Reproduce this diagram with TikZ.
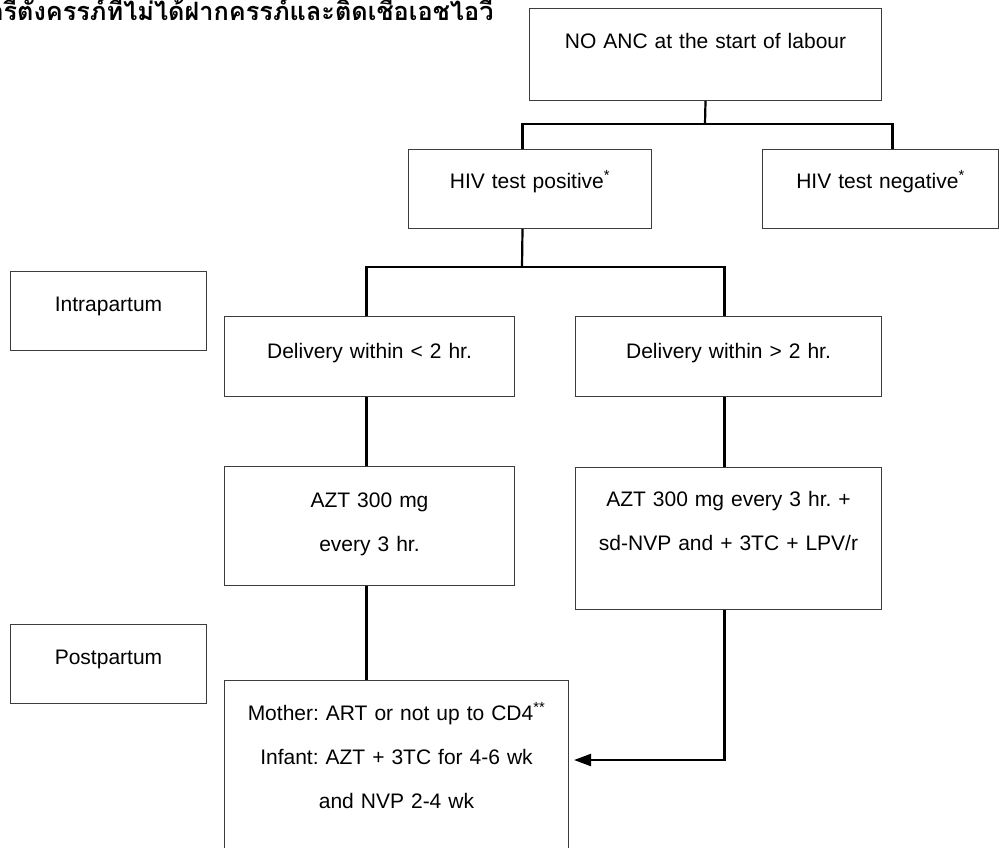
\documentclass[tikz,border=0pt]{standalone}
\usepackage{fontspec}
\setmainfont{Liberation Sans}
\newfontfamily\thaifont[Script=Thai]{Loma}
\usetikzlibrary{arrows.meta,positioning}
\definecolor{ink}{HTML}{000000}
\definecolor{frame}{HTML}{3C3C3C}
\tikzset{fbox/.style n args={3}{draw=frame,line width=1pt,anchor=north west,inner sep=0pt,
  align=center,text width=#1pt,minimum width=#1pt,text height=#2pt,text depth=#3pt,
  font=\fontsize{21}{44}\selectfont},
  wire/.style={line width=2.2pt,draw=ink},
  tip/.style={-{Triangle[length=17pt,width=12pt]}}}
\newcommand{\supstar}[1]{\textsuperscript{#1}}

\begin{document}
\frenchspacing
\begin{tikzpicture}[x=1pt,y=-1pt]
\useasboundingbox (0,0) rectangle (1000,847);
\node[anchor=base east,font=\thaifont\bfseries\fontsize{25.3}{30}\selectfont] (title) at (497,20)
  {สตรีตั้งครรภ์ที่ไม่ได้ฝากครรภ์และติดเชื้อเอชไอวี};
% flow boxes
\node[fbox={352}{39.5}{52.5}] (start) at (529,8) {NO ANC at the start of labour};
\node[fbox={243}{38.5}{40.5}] (pos) at (408,149) {HIV test positive\supstar{*}};
\node[fbox={236}{38.5}{40.5}] (neg) at (762,149) {HIV test negative\supstar{*}};
\foreach \n/\y/\t in {intra/271/Intrapartum,post/624/Postpartum}
  \node[fbox={196}{40}{39}] (\n) at (10,\y) {\t};
\node[fbox={290}{41.5}{38.5}] (del1) at (224,316) {Delivery within < 2 hr.};
\node[fbox={306}{41.5}{38.5}] (del2) at (575,316) {Delivery within > 2 hr.};
\node[fbox={290}{40.5}{78.5}] (azt1) at (224,466) {AZT 300 mg\\every 3 hr.};
\node[fbox={306}{38.5}{103.5}] (azt2) at (575,467) {AZT 300 mg every 3 hr. +\\sd-NVP and + 3TC + LPV/r};
\node[fbox={344}{39.5}{150}] (final) at (224,680)
  {Mother: ART or not up to CD4\supstar{**}\\Infant: AZT + 3TC for 4-6 wk\\and NVP 2-4 wk};
% connectors
\coordinate (b1) at (705,124);
\coordinate (b2) at (522,267);
\draw[wire] (start.south) -- (b1);
\draw[wire] ([xshift=-7.5pt]pos.north) |- (b1) -| ([xshift=12pt]neg.north);
\draw[wire] ([xshift=-7.5pt]pos.south) -- (b2);
\draw[wire] ([xshift=-3pt]del1.north) |- (b2) -| ([xshift=-4pt]del2.north);
\draw[wire] ([xshift=-3pt]del1.south) -- ([xshift=-3pt]azt1.north);
\draw[wire] ([xshift=-4pt]del2.south) -- ([xshift=-4pt]azt2.north);
\draw[wire] ([xshift=-3pt]azt1.south) -- ([xshift=-30pt]final.north);
\draw[wire,tip,shorten >=5pt] ([xshift=-4pt]azt2.south) |- ([yshift=-80pt]final.north east);
\end{tikzpicture}
\end{document}
